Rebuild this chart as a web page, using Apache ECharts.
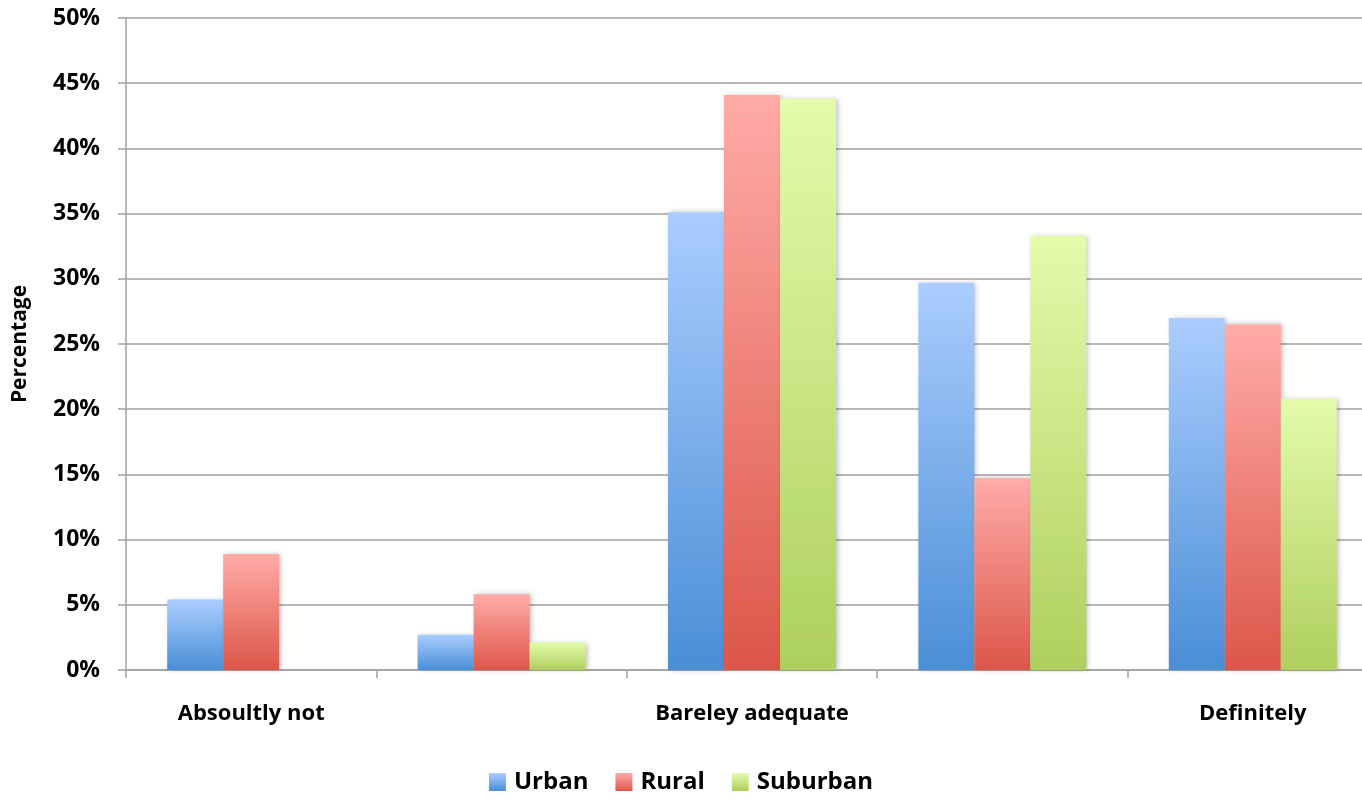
<!DOCTYPE html>
<html>
<head>
<meta charset="utf-8">
<script src="https://cdn.jsdelivr.net/npm/echarts@6/dist/echarts.min.js"></script>
<style>
html,body{margin:0;padding:0;background:#fff;}
#chart{width:1362px;height:800px;}
</style>
</head>
<body>
<div id="chart"></div>
<script>
var categories = ["Absoultly not", "", "Bareley adequate", "", "Definitely"];
var urban = [5.4, 2.7, 35.1, 29.7, 27.0];
var rural = [8.9, 5.8, 44.1, 14.7, 26.5];
var suburban = [0, 2.1, 43.8, 33.3, 20.8];
var seriesNames = ["Urban", "Rural", "Suburban"];
var yTicks = [0, 5, 10, 15, 20, 25, 30, 35, 40, 45, 50];

var FONT = "Open Sans";
function grad(top, bottom) {
  return new echarts.graphic.LinearGradient(0, 0, 0, 1, [
    {offset: 0, color: top}, {offset: 1, color: bottom}
  ]);
}
var colors = [
  grad('#abcdfe', '#4a8ed6'),
  grad('#ffaba8', '#dc5649'),
  grad('#e3fbab', '#afcf5e')
];
var values = [urban, rural, suburban];

var chart = echarts.init(document.getElementById('chart'));
chart.setOption({
  animation: false,
  grid: {left: 126, top: 18, right: -16, bottom: 130, outerBoundsMode: 'none', containLabel: false},
  legend: {
    bottom: 1,
    left: 'center',
    itemWidth: 17,
    itemHeight: 18,
    itemGap: 27,
    icon: 'rect',
    textStyle: {fontFamily: FONT, fontWeight: 'bold', fontSize: 24, color: '#000', padding: [0, 0, 0, 3]},
    data: seriesNames
  },
  xAxis: {
    type: 'category',
    data: categories,
    axisLine: {lineStyle: {color: '#a0a0a0', width: 1.5}},
    axisTick: {show: true, length: 8, lineStyle: {color: '#a0a0a0', width: 1.5}},
    axisLabel: {interval: 0, margin: 33, fontFamily: FONT, fontWeight: 'bold', fontSize: 22, color: '#000'}
  },
  yAxis: {
    type: 'value',
    min: yTicks[0],
    max: yTicks[yTicks.length - 1],
    interval: 5,
    name: 'Percentage',
    nameLocation: 'middle',
    nameGap: 95,
    nameRotate: 90,
    nameTextStyle: {fontFamily: FONT, fontWeight: 'bold', fontSize: 21, color: '#000'},
    axisLine: {show: true, lineStyle: {color: '#a0a0a0', width: 1.5}},
    axisTick: {show: true, length: 8, lineStyle: {color: '#a0a0a0', width: 1.5}},
    axisLabel: {formatter: '{value}%', margin: 26, fontFamily: FONT, fontWeight: 'bold', fontSize: 23, color: '#000'},
    splitLine: {lineStyle: {color: '#a0a0a0', width: 1.5}}
  },
  series: seriesNames.map(function (n, i) {
    return {
      name: n,
      type: 'bar',
      data: values[i],
      barWidth: 56,
      barGap: '0%',
      itemStyle: {
        color: colors[i],
        shadowColor: 'rgba(0,0,0,0.25)',
        shadowBlur: 5,
        shadowOffsetX: 2,
        shadowOffsetY: 0
      }
    };
  })
});
</script>
</body>
</html>
